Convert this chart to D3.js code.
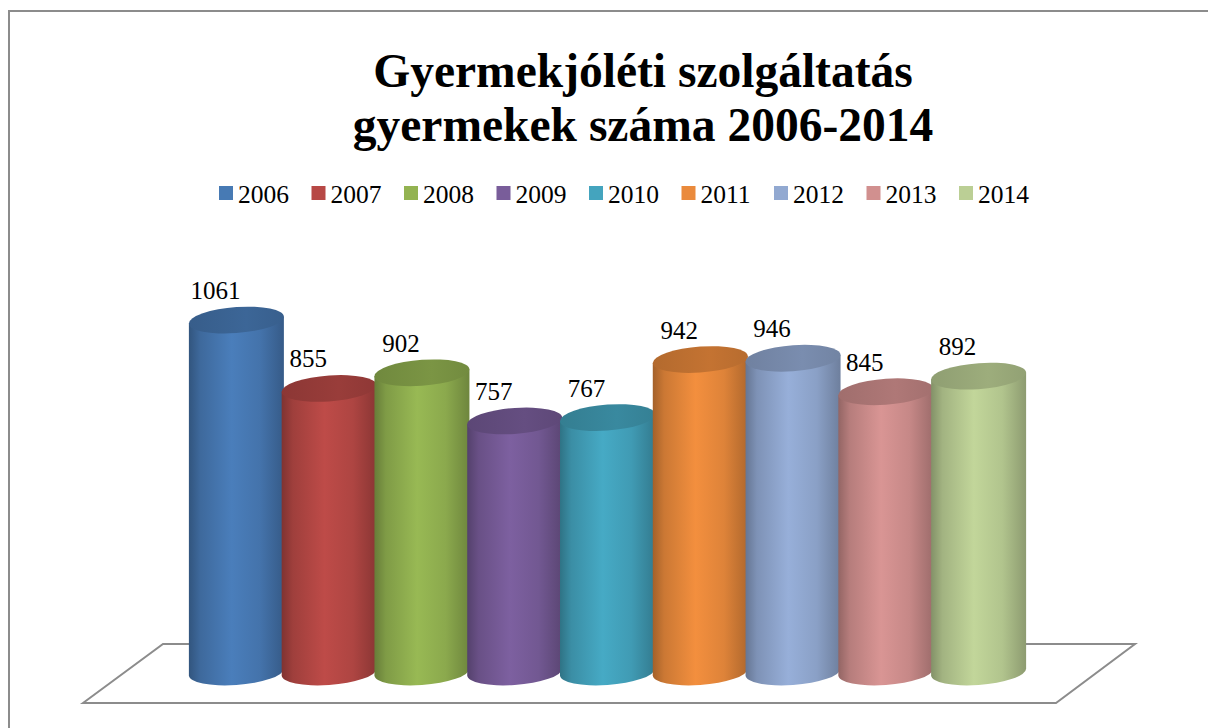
<!DOCTYPE html>
<html>
<head>
<meta charset="utf-8">
<script src="https://cdn.jsdelivr.net/npm/d3@7"></script>
<style>
  body { margin: 0; background: #fff; }
  svg { display: block; }
</style>
</head>
<body>
<div id="chart"></div>
<script>
const years = ["2006", "2007", "2008", "2009", "2010", "2011", "2012", "2013", "2014"];
const values = [1061, 855, 902, 757, 767, 942, 946, 845, 892];
const colors = ["#4A7EBB", "#BE4B48", "#98B954", "#7D60A0", "#46AAC5", "#F38F3E", "#97AFD9", "#D99594", "#C2D69A"];
const titleLines = ["Gyermekjóléti szolgáltatás", "gyermekek száma 2006-2014"];

const width = 1208, height = 728;
const serif = "'Liberation Serif', 'Times New Roman', serif";

const svg = d3.select("#chart")
    .append("svg")
    .attr("width", width)
    .attr("height", height);

const defs = svg.append("defs");

// chart frame (right and bottom run off the page)
svg.append("rect")
    .attr("x", 9)
    .attr("y", 11)
    .attr("width", 1300)
    .attr("height", 800)
    .attr("fill", "none")
    .attr("stroke", "#8c8c8c")
    .attr("stroke-width", 2);

const x = d3.scaleBand()
    .domain(years)
    .range([190, 1025])
    .padding(0);

const y = d3.scaleLinear()
    .domain([0, 1200])
    .range([672, 274]);

const color = d3.scaleOrdinal()
    .domain(years)
    .range(colors);

// title
svg.append("text")
    .attr("x", 641)
    .attr("y", 87)
    .attr("text-anchor", "middle")
    .attr("font-family", serif)
    .attr("font-weight", "bold")
    .attr("font-size", 47.5)
    .selectAll("tspan")
    .data(titleLines)
    .enter()
    .append("tspan")
    .attr("x", 643)
    .attr("dy", (d, i) => i === 0 ? 0 : 54)
    .text(d => d);

// legend
const legend = svg.append("g")
    .selectAll("g")
    .data(years)
    .enter()
    .append("g")
    .attr("transform", (d, i) => `translate(${219 + i * 92.5}, 0)`);
legend.append("rect")
    .attr("x", 0)
    .attr("y", 186)
    .attr("width", 14)
    .attr("height", 14)
    .attr("fill", d => d3.color(color(d)).darker(0.1));
legend.append("text")
    .attr("x", 19)
    .attr("y", 203)
    .attr("font-family", serif)
    .attr("font-size", 25.5)
    .attr("fill", "#000")
    .text(d => d);

// floor
const x0 = x.range()[0], x1 = x.range()[1];
const floor = [[x0 - 107, 703], [x0 - 27, 644], [x1 + 110, 644], [x1 + 31, 703]];
svg.append("path")
    .attr("d", "M" + floor.join("L") + "Z")
    .attr("fill", "none")
    .attr("stroke", "#8c8c8c")
    .attr("stroke-width", 2);

// gradients for cylinders
years.forEach(yr => {
    const c = d3.color(color(yr));
    const g = defs.append("linearGradient")
        .attr("id", "body" + yr)
        .attr("x1", "0%").attr("x2", "100%")
        .attr("y1", "0%").attr("y2", "0%");
    g.append("stop").attr("offset", "0%").attr("stop-color", c.darker(1.1));
    g.append("stop").attr("offset", "12%").attr("stop-color", c.darker(0.5));
    g.append("stop").attr("offset", "45%").attr("stop-color", c);
    g.append("stop").attr("offset", "75%").attr("stop-color", c.darker(0.25));
    g.append("stop").attr("offset", "100%").attr("stop-color", c.darker(0.9));

    const t = defs.append("linearGradient")
        .attr("id", "top" + yr)
        .attr("x1", "0%").attr("x2", "100%")
        .attr("y1", "0%").attr("y2", "0%");
    t.append("stop").attr("offset", "0%").attr("stop-color", c.darker(0.85));
    t.append("stop").attr("offset", "60%").attr("stop-color", c.darker(0.6));
    t.append("stop").attr("offset", "100%").attr("stop-color", c.darker(0.8));
});

const data = years.map((d, i) => ({year: d, value: values[i]}));
const rx = 47.5, ry = 13;

const bars = svg.append("g")
    .selectAll("g")
    .data(data)
    .enter()
    .append("g")
    .attr("transform", d => `translate(${x(d.year) + x.bandwidth() / 2}, 0) skewY(-4)`);

bars.append("path")
    .attr("d", d => {
        const yt = y(d.value), yb = y(0);
        return `M${-rx},${yt} L${-rx},${yb} A${rx},${ry} 0 0 0 ${rx},${yb} L${rx},${yt} Z`;
    })
    .attr("fill", d => `url(#body${d.year})`);

bars.append("ellipse")
    .attr("cx", 0)
    .attr("cy", d => y(d.value))
    .attr("rx", rx)
    .attr("ry", ry)
    .attr("fill", d => `url(#top${d.year})`);

// value labels
svg.append("g")
    .selectAll("text")
    .data(data)
    .enter()
    .append("text")
    .attr("x", d => x(d.year) + x.bandwidth() / 2 - 21)
    .attr("y", d => y(d.value) - 21)
    .attr("text-anchor", "middle")
    .attr("font-family", serif)
    .attr("font-size", 25)
    .attr("fill", "#000")
    .text(d => d.value);
</script>
</body>
</html>
